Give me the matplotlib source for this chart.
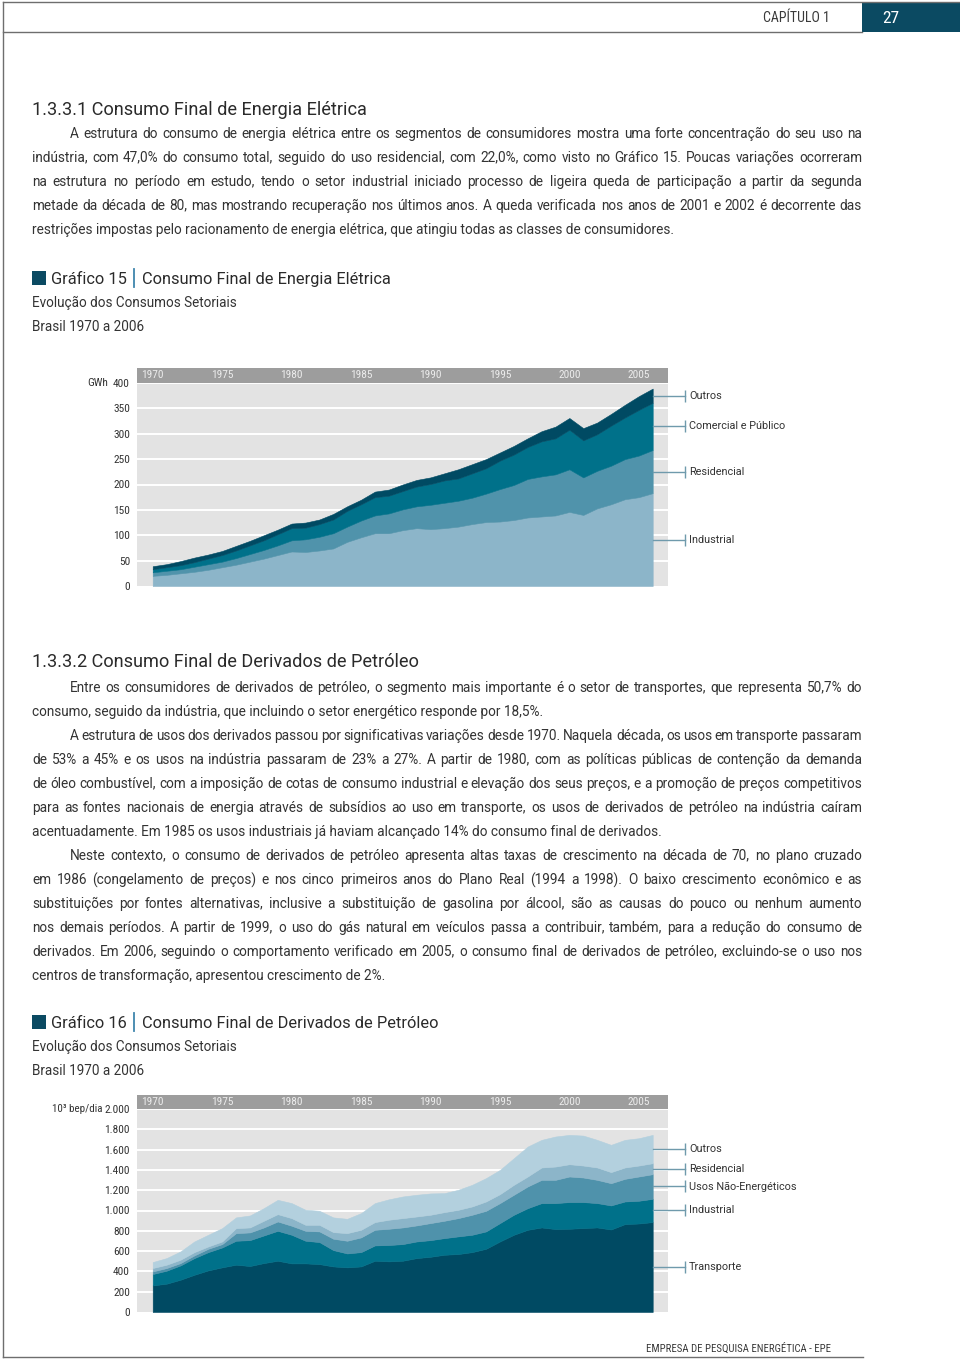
import math
import matplotlib
matplotlib.use('Agg')
import matplotlib.pyplot as plt
from matplotlib import font_manager
from matplotlib.font_manager import FontProperties
from matplotlib.patches import Rectangle
from matplotlib.transforms import blended_transform_factory

# ---------------- data ----------------
years = list(range(1970, 2007))
year_ticks = [1970, 1975, 1980, 1985, 1990, 1995, 2000, 2005]

# Gráfico 15 - Consumo final de energia elétrica (GWh, scale 0-400)
elec_industrial = [20, 22, 25, 28, 32, 37, 42, 48, 54, 61,
                   68, 67, 70, 74, 87, 96, 104, 104, 110, 114,
                   112, 114, 117, 122, 126, 127, 130, 135, 137, 139,
                   146, 140, 153, 161, 171, 175, 183]
elec_residencial = [7, 8, 8, 10, 11, 11, 13, 15, 17, 19,
                    22, 25, 27, 30, 30, 33, 35, 39, 41, 43,
                    48, 50, 51, 52, 56, 64, 69, 76, 79, 81,
                    84, 74, 74, 76, 79, 82, 85]
elec_comercial = [6, 7, 8, 9, 11, 13, 15, 17, 19, 22,
                  24, 23, 25, 27, 31, 32, 36, 35, 36, 39,
                  41, 44, 44, 48, 50, 56, 60, 63, 69, 71,
                  78, 73, 72, 79, 82, 90, 93]
elec_outros = [6, 6, 8, 9, 8, 8, 9, 9, 10, 9,
               9, 10, 9, 11, 9, 9, 11, 12, 13, 13,
               13, 14, 18, 18, 18, 16, 17, 17, 20, 23,
               23, 24, 23, 23, 25, 27, 28]
elec_labels = ['Industrial', 'Residencial', 'Comercial e Público', 'Outros']
elec_yticks = [0, 50, 100, 150, 200, 250, 300, 350, 400]
elec_yticklabels = ['0', '50', '100', '150', '200', '250', '300', '350', '400']

# Gráfico 16 - Consumo final de derivados de petróleo (10^3 bep/dia)
oil_transporte = [262, 279, 318, 367, 410, 440, 466, 453, 482, 505,
                  479, 479, 472, 449, 440, 449, 505, 499, 505, 531,
                  544, 564, 571, 590, 623, 695, 761, 810, 833, 817,
                  820, 827, 833, 813, 866, 872, 886]
oil_industrial = [112, 128, 141, 164, 180, 196, 236, 255, 272, 295,
                  282, 223, 217, 161, 137, 141, 151, 161, 164, 164,
                  164, 164, 174, 171, 171, 181, 197, 213, 240, 256,
                  263, 256, 240, 237, 223, 224, 229]
oil_nao_energeticos = [26, 26, 23, 27, 33, 33, 75, 76, 79, 92,
                       89, 98, 105, 112, 125, 145, 154, 160, 164, 158,
                       168, 171, 180, 197, 203, 197, 197, 214, 229, 229,
                       252, 242, 229, 219, 223, 239, 243]
oil_residencial = [33, 33, 33, 32, 23, 26, 49, 49, 66, 72,
                   75, 59, 65, 65, 75, 75, 76, 89, 92, 88,
                   82, 85, 82, 82, 92, 88, 98, 98, 122, 131,
                   121, 118, 122, 109, 112, 108, 108]
oil_outros = [59, 65, 82, 105, 115, 131, 106, 118, 124, 141,
              148, 148, 138, 145, 141, 164, 187, 201, 213, 214,
              210, 187, 197, 213, 230, 239, 262, 295, 272, 296,
              289, 295, 272, 269, 272, 269, 279]
oil_labels = ['Transporte', 'Industrial', 'Usos Não-Energéticos', 'Residencial', 'Outros']
oil_yticks = [0, 200, 400, 600, 800, 1000, 1200, 1400, 1600, 1800, 2000]
oil_yticklabels = ['0', '200', '400', '600', '800', '1.000', '1.200', '1.400',
                   '1.600', '1.800', '2.000']

# ---------------- text ----------------
heading1 = '1.3.3.1 Consumo Final de Energia Elétrica'
para1 = [
    'A estrutura do consumo de energia elétrica entre os segmentos de consumidores mostra uma forte concentração do seu uso na',
    'indústria, com 47,0% do consumo total, seguido do uso residencial, com 22,0%, como visto no Gráfico 15. Poucas variações ocorreram',
    'na estrutura no período em estudo, tendo o setor industrial iniciado processo de ligeira queda de participação a partir da segunda',
    'metade da década de 80, mas mostrando recuperação nos últimos anos. A queda verificada nos anos de 2001 e 2002 é decorrente das',
    'restrições impostas pelo racionamento de energia elétrica, que atingiu todas as classes de consumidores.',
]
heading2 = '1.3.3.2 Consumo Final de Derivados de Petróleo'
para2 = [
    'Entre os consumidores de derivados de petróleo, o segmento mais importante é o setor de transportes, que representa 50,7% do',
    'consumo, seguido da indústria, que incluindo o setor energético responde por 18,5%.',
]
para3 = [
    'A estrutura de usos dos derivados passou por significativas variações desde 1970. Naquela década, os usos em transporte passaram',
    'de 53% a 45% e os usos na indústria passaram de 23% a 27%. A partir de 1980, com as políticas públicas de contenção da demanda',
    'de óleo combustível, com a imposição de cotas de consumo industrial e elevação dos seus preços, e a promoção de preços competitivos',
    'para as fontes nacionais de energia através de subsídios ao uso em transporte, os usos de derivados de petróleo na indústria caíram',
    'acentuadamente. Em 1985 os usos industriais já haviam alcançado 14% do consumo final de derivados.',
]
para4 = [
    'Neste contexto, o consumo de derivados de petróleo apresenta altas taxas de crescimento na década de 70, no plano cruzado',
    'em 1986 (congelamento de preços) e nos cinco primeiros anos do Plano Real (1994 a 1998). O baixo crescimento econômico e as',
    'substituições por fontes alternativas, inclusive a substituição de gasolina por álcool, são as causas do pouco ou nenhum aumento',
    'nos demais períodos. A partir de 1999, o uso do gás natural em veículos passa a contribuir, também, para a redução do consumo de',
    'derivados. Em 2006, seguindo o comportamento verificado em 2005, o consumo final de derivados de petróleo, excluindo-se o uso nos',
    'centros de transformação, apresentou crescimento de 2%.',
]

# ---------------- setup ----------------
avail = {f.name for f in font_manager.fontManager.ttflist}
BODY_NAME = next((n for n in ['Roboto', 'Open Sans'] if n in avail), 'DejaVu Sans')
BODY = [BODY_NAME, 'DejaVu Sans']
NARROW = next((n for n in ['Liberation Sans Narrow', 'Roboto Condensed', 'Roboto']
               if n in avail), 'DejaVu Sans')

W, H = 960, 1360
TXT = '#333333'
fig = plt.figure(figsize=(9.6, 13.6), dpi=100)
fig.patch.set_facecolor('white')
R = fig.canvas.get_renderer()

try:
    from matplotlib.backends.backend_agg import get_hinting_flag
except Exception:  # pragma: no cover
    get_hinting_flag = None


def fx(x):
    return x / W


def fy(y):
    return 1 - y / H


def measure(s, size, family):
    t = fig.text(0, 0, s, fontsize=size, family=family)
    w = t.get_window_extent(renderer=R).width
    t.remove()
    return w


def fit(s, width, family):
    return 10 * width / measure(s, 10, family)


def baseline_shift(s, size, family):
    """Offset so that every separately drawn word lands on the same pixel baseline."""
    try:
        font = R._prepare_font(FontProperties(family=family, size=size))
        font.set_text(s, 0, flags=get_hinting_flag())
        _, h = font.get_width_height()
        desc = font.get_descent()
        ymax = (h - desc) / 64.0
        return -math.floor(ymax) + (h // 64) - desc / 64.0
    except Exception:
        return 0.0


def put(x, y, s, size, family=BODY, color=TXT, ha='left', **kw):
    yy = y + baseline_shift(s, size, family)
    return fig.text(fx(x), fy(yy), s, fontsize=size, family=family,
                    color=color, ha=ha, va='baseline', **kw)


def justify(x0, x1, y, s, size, family=BODY, color=TXT):
    words = s.split(' ')
    ws = [measure(w, size, family) for w in words]
    gap = (x1 - x0 - sum(ws)) / (len(words) - 1)
    x = x0
    for w, wd in zip(words, ws):
        put(x, y, w, size, family, color)
        x += wd + gap


def paragraph(lines, y0, size, indent=70, left=32, right=862, step=24):
    for i, ln in enumerate(lines):
        x0 = indent if i == 0 else left
        y = y0 + i * step
        if i == len(lines) - 1:
            put(x0, y, ln, size)
        else:
            justify(x0, right, y, ln, size)


# ---------------- page frame ----------------
frame = '#6e6e6e'
fig.add_artist(plt.Line2D([fx(3), fx(3)], [fy(2), fy(1357)], color=frame, lw=1))
fig.add_artist(plt.Line2D([fx(3), fx(863)], [fy(1357), fy(1357)], color=frame, lw=1))
fig.add_artist(plt.Line2D([fx(3), fx(960)], [fy(2), fy(2)], color=frame, lw=1))
fig.add_artist(plt.Line2D([fx(3), fx(862)], [fy(32), fy(32)], color=frame, lw=1))
fig.add_artist(Rectangle((fx(862), fy(32)), fx(98), 30 / H, transform=fig.transFigure,
                         color='#0b4a62', lw=0))
s_cap = fit('CAPÍTULO 1', 67, NARROW)
put(763, 22, 'CAPÍTULO 1', s_cap, family=NARROW, color='#3a3a3a')
put(882, 23, '27', 12.5, family=NARROW, color='white')
s_foot = fit('EMPRESA DE PESQUISA ENERGÉTICA - EPE', 184, NARROW)
put(646, 1352, 'EMPRESA DE PESQUISA ENERGÉTICA - EPE', s_foot, family=NARROW, color='#3a3a3a')

# ---------------- headings and paragraphs ----------------
s_body = fit(para1[-1], 644, BODY)
s_head = fit(heading1, 334, BODY)
put(32, 115, heading1, s_head, color='#2a2a2a')
paragraph(para1, 138, s_body)
put(32, 667, heading2, s_head, color='#2a2a2a')
paragraph(para2, 692, s_body)
paragraph(para3, 740, s_body)
paragraph(para4, 860, s_body)

s_title = fit('Consumo Final de Energia Elétrica', 249, BODY)
s_sub = fit('Evolução dos Consumos Setoriais', 205, BODY)


def chart_title(y, num, title):
    fig.add_artist(Rectangle((fx(32), fy(y + 7)), 14 / W, 14 / H,
                             transform=fig.transFigure, color='#0b4a62', lw=0))
    put(51, y + 6, 'Gráfico ' + num, s_title, color='#2a2a2a')
    fig.add_artist(plt.Line2D([fx(134), fx(134)], [fy(y + 9), fy(y - 9)],
                              color='#3f86ad', lw=1.3))
    put(142, y + 6, title, s_title, color='#2a2a2a')
    put(32, y + 29, 'Evolução dos Consumos Setoriais', s_sub)
    put(32, y + 53, 'Brasil 1970 a 2006', s_sub)


chart_title(278, '15', 'Consumo Final de Energia Elétrica')
chart_title(1022, '16', 'Consumo Final de Derivados de Petróleo')

# ---------------- charts ----------------
X_LEFT_PX, X_RIGHT_PX = 137, 668
X0_PX, X1_PX = 152.7, 652.7
PPY = (X1_PX - X0_PX) / (years[-1] - years[0])
XMIN = years[0] - (X0_PX - X_LEFT_PX) / PPY
XMAX = years[-1] + (X_RIGHT_PX - X1_PX) / PPY
LEAD = '#6f9aac'
s_lead = fit('Comercial e Público', 96, BODY)


def area_chart(top_px, bot_px, band_px, series, colors, labels, yticks, yticklabels,
               unit, unit_x, unit_w):
    ax = fig.add_axes([fx(X_LEFT_PX), fy(bot_px), (X_RIGHT_PX - X_LEFT_PX) / W,
                       (bot_px - top_px) / H])
    ax.set_xlim(XMIN, XMAX)
    ax.set_ylim(0, yticks[-1])
    ax.set_facecolor('#e3e3e3')
    for sp in ax.spines.values():
        sp.set_visible(False)
    ax.set_xticks([])
    ax.set_yticks(yticks)
    ax.set_yticklabels(yticklabels)
    ax.tick_params(axis='y', length=0, pad=5, labelsize=8.2, labelcolor='#333333')
    for lab in ax.get_yticklabels():
        lab.set_family(NARROW)
    for t in yticks[1:]:
        ax.axhline(t, color='white', lw=1.4, zorder=1)
    polys = ax.stackplot(years, *series, colors=colors, zorder=2, lw=0.4)
    for p, c in zip(polys, colors):
        p.set_edgecolor(c)
    # header band with years
    band_h = band_px / (bot_px - top_px)
    ax.add_patch(Rectangle((0, 1), 1, band_h, transform=ax.transAxes,
                           clip_on=False, color='#9d9d9d', lw=0, zorder=3))
    tr = blended_transform_factory(ax.transData, ax.transAxes)
    for yr in year_ticks:
        ax.text(yr, 1 + band_h / 2, str(yr), transform=tr, ha='center', va='center',
                fontsize=8.2, family=NARROW, color='#ececec', zorder=4)
    # leader lines + labels
    x_tick = years[-1] + (685 - X1_PX) / PPY
    base = 0
    for s, lab in zip(series, labels):
        mid = base + s[-1] / 2
        base += s[-1]
        ax.plot([years[-1], x_tick], [mid, mid], color=LEAD, lw=1, clip_on=False, zorder=5)
        ax.plot([x_tick], [mid], marker='|', ms=8, mew=1, color=LEAD, clip_on=False, zorder=5)
        ax.text(x_tick + 4 / PPY, mid, lab, fontsize=s_lead, family=BODY, color='#333333',
                va='center', ha='left', clip_on=False)
    # unit label
    s_unit = min(8.2, fit(unit, unit_w, NARROW))
    ax.text(unit_x, yticks[-1], unit,
            transform=blended_transform_factory(fig.transFigure, ax.transData),
            fontsize=s_unit, family=NARROW, color='#333333', ha='left', va='center')
    return ax


elec_colors = ['#8cb5c9', '#5093ab', '#00718a', '#004a63']
area_chart(383, 586, 15, [elec_industrial, elec_residencial, elec_comercial, elec_outros],
           elec_colors, elec_labels, elec_yticks, elec_yticklabels, 'GWh', fx(87), 21)

oil_colors = ['#004a63', '#00718a', '#4f92ab', '#8cb5c9', '#b3d0de']
area_chart(1109, 1312, 14,
           [oil_transporte, oil_industrial, oil_nao_energeticos, oil_residencial, oil_outros],
           oil_colors, oil_labels, oil_yticks, oil_yticklabels, '10³ bep/dia', fx(52), 50)

fig.savefig('out.png', dpi=100)
